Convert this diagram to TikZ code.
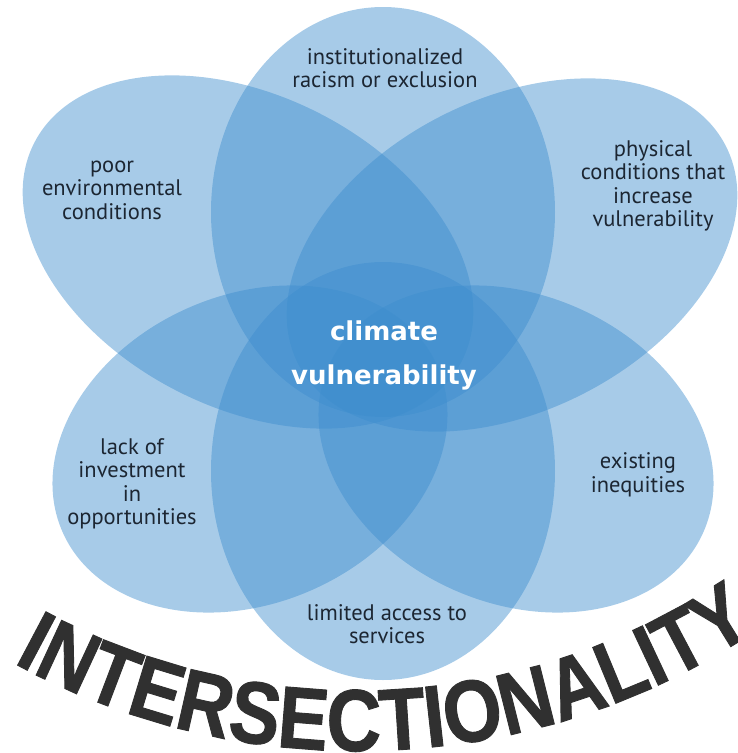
\documentclass[tikz,border=0pt]{standalone}
\usepackage{fontspec}
\setmainfont{PT Sans}
\newfontfamily\corefont{DejaVu Sans}
\newfontfamily\archfont{Liberation Sans Bold}[FakeStretch=0.86, FakeBold=1]
\usetikzlibrary{decorations.text}
\definecolor{petalblue}{RGB}{60,140,205}
\definecolor{labelink}{RGB}{28,38,50}
\definecolor{archgray}{RGB}{48,48,48}
\tikzset{
  petal/.style={fill=petalblue, fill opacity=0.45},
  factor/.style={text=labelink, align=center, font=\fontsize{22.5}{23.5}\selectfont},
}

\begin{document}
\begin{tikzpicture}[x=1pt,y=-1pt]
\useasboundingbox (0,0) rectangle (738,753);
%-------->petals<--------------
\fill[petal] (383,212) ellipse [x radius=172pt, y radius=205pt]; % top
\fill[petal] (383,471) ellipse [x radius=172pt, y radius=209pt]; % bottom
\fill[petal, rotate around={-27:(248,252)}] (248,252) ellipse [x radius=240pt, y radius=156pt]; % upper left
\fill[petal, rotate around={27:(512,255)}] (512,255) ellipse [x radius=240pt, y radius=156pt]; % upper right
\fill[petal, rotate around={24:(250,449)}] (250,449) ellipse [x radius=205pt, y radius=154pt]; % lower left
\fill[petal, rotate around={-24:(516,449)}] (516,449) ellipse [x radius=205pt, y radius=154pt]; % lower right
%-------->labels<--------------
\node[factor] (racism) at (385,68) {institutionalized\\racism or exclusion};
\node[factor] (environment) at (112,190) {poor\\environmental\\conditions};
\node[factor] (physical) at (653,186) {physical\\conditions that\\increase\\vulnerability};
\node[factor] (investment) at (132,484) {lack of\\investment\\in\\opportunities};
\node[factor] (inequities) at (638,475) {existing\\inequities};
\node[factor] (services) at (387,624) {limited access to\\services};
%-------->centre<--------------
\node[text=white, align=center, font=\corefont\bfseries\fontsize{26}{44}\selectfont] (core) at (384,355) {climate\\vulnerability};
%-------->arch<--------------
\path[decorate, decoration={text along path, text align=center, text color=archgray,
  text={|\archfont\fontsize{88}{88}\selectfont|INTERSECTIONALITY}}]
  (358,33) ++(121:718) arc [start angle=121, end angle=54, radius=718];
\end{tikzpicture}
\end{document}
